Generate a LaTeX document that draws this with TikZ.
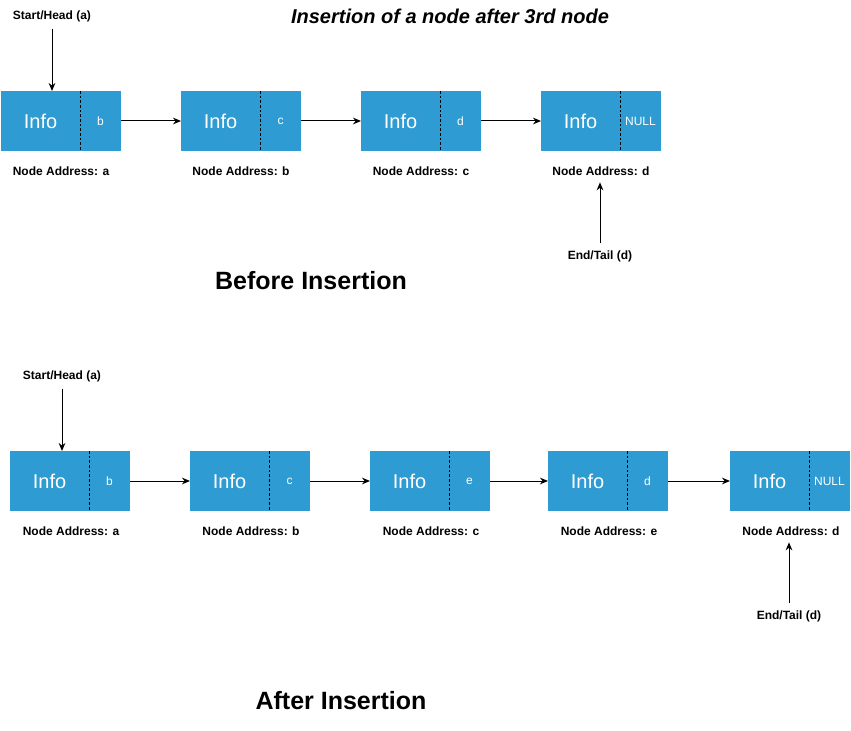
\documentclass[tikz,border=0pt]{standalone}
\usepackage{fontspec}
\setmainfont{Liberation Sans}
\usetikzlibrary{positioning,arrows.meta}

\definecolor{cellblue}{RGB}{46,155,211}

\tikzset{
  infopart/.style={fill=cellblue, text=white, inner sep=0pt, outer sep=0pt,
    minimum width=59.25pt, minimum height=45pt, font=\fontsize{15}{18}\selectfont},
  ptrpart/.style={fill=cellblue, text=white, inner sep=0pt, outer sep=0pt,
    minimum width=30.75pt, minimum height=45pt, font=\fontsize{9}{11}\selectfont},
  divider/.style={dashed, line width=0.75pt, dash pattern=on 2pt off 1.5pt},
  link/.style={line width=0.75pt, -{Stealth[length=6pt,width=5pt]}},
  addrlabel/.style={inner sep=5pt, font=\bfseries\fontsize{9}{11}\selectfont},
  ptrlabel/.style={inner sep=5pt, font=\bfseries\fontsize{9}{11}\selectfont},
  heading/.style={font=\bfseries\fontsize{18.75}{22}\selectfont}
}

\begin{document}
\begin{tikzpicture}[x=0.75pt, y=-0.75pt]
  \useasboundingbox (0,0) rectangle (851,731);

  \node[font=\bfseries\itshape\fontsize{15}{18}\selectfont] (title) at (450,16)
    {Insertion of a node after 3rd node};

  % before insertion
  \foreach \i/\x/\ptr/\addr in {1/1/b/a, 2/181/c/b, 3/361/d/c, 4/541/NULL/d}
  { \node[infopart, anchor=north west] (t\i) at (\x,91) {Info};
    \node[ptrpart, right=0pt of t\i] (t\i p) {\ptr};
    \draw[divider] (t\i.north east) -- (t\i.south east);
    \node[addrlabel] (t\i a) at (\x+60,171) {Node Address: \addr}; }

  \foreach \i/\j in {1/2,2/3,3/4}
    \draw[link] (t\i p) -- (t\j);

  \node[ptrlabel] (thead) at (52,16) {Start/Head (a)};
  \draw[link] (thead.south) -- (thead.south |- t1.north);
  \node[ptrlabel] (ttail) at (600,256) {End/Tail (d)};
  \draw[link] (ttail.north) -- (ttail.north |- t4a.south);

  \node[heading] (before) at (311,281) {Before Insertion};

  % after insertion
  \foreach \i/\x/\ptr/\addr in {1/10/b/a, 2/190/c/b, 3/370/e/c, 4/548/d/e, 5/730/NULL/d}
  { \node[infopart, anchor=north west] (b\i) at (\x,451) {Info};
    \node[ptrpart, right=0pt of b\i] (b\i p) {\ptr};
    \draw[divider] (b\i.north east) -- (b\i.south east);
    \node[addrlabel] (b\i a) at (\x+61,531) {Node Address: \addr}; }

  \foreach \i/\j in {1/2,2/3,3/4,4/5}
    \draw[link] (b\i p) -- (b\j);

  \node[ptrlabel] (bhead) at (62,376) {Start/Head (a)};
  \draw[link] (bhead.south) -- (bhead.south |- b1.north);
  \node[ptrlabel] (btail) at (789,616) {End/Tail (d)};
  \draw[link] (btail.north) -- (btail.north |- b5a.south);

  \node[heading] (after) at (341,701) {After Insertion};
\end{tikzpicture}
\end{document}
